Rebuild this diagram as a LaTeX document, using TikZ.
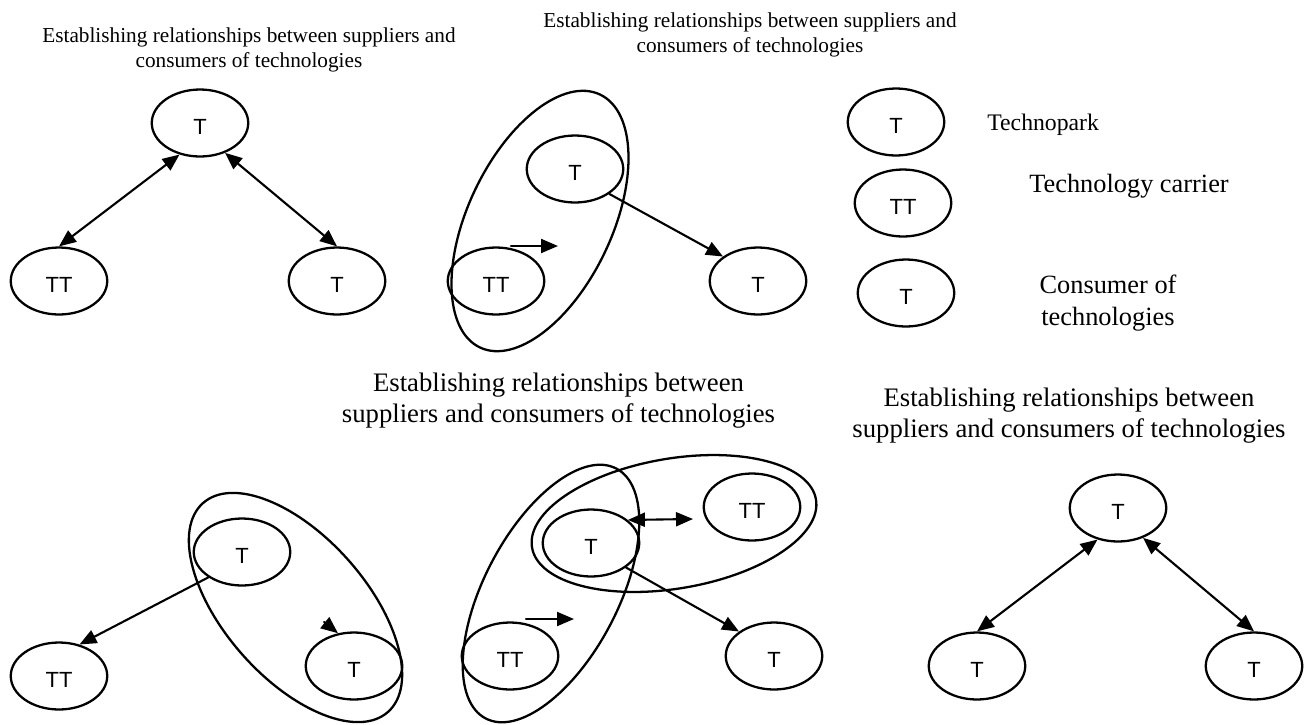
\documentclass[tikz,border=0pt]{standalone}
\usepackage{fontspec}
\setmainfont{Liberation Serif}
\setsansfont{Liberation Sans}
\usetikzlibrary{shapes.geometric,arrows.meta}

\begin{document}
\begin{tikzpicture}[x=0.02cm,y=-0.02cm,line join=round,line cap=round,>={Triangle[length=0.34cm,width=0.28cm]},
		oval/.style={ellipse,draw,line width=1.3pt,minimum width=1.93cm,minimum height=1.34cm,inner sep=0pt,
			font=\sffamily\fontsize{12.5}{14}\selectfont,text height=0.47cm,text depth=0pt},
		link/.style={line width=1.2pt},
		ttl/.style={align=center,font=\fontsize{12.1}{14.2}\selectfont},
		bigttl/.style={align=center,font=\fontsize{15.2}{17.6}\selectfont}]
			\useasboundingbox (0,0) rectangle (1309,724);
			\draw (249,49.5) node[ttl] (ttl1) {Establishing relationships between suppliers and\\consumers of technologies};
			\draw (750,34.5) node[ttl] (ttl2) {Establishing relationships between suppliers and\\consumers of technologies};
			\draw (558.5,401) node[bigttl] (ttl3) {Establishing relationships between\\suppliers and consumers of technologies};
			\draw (1069,416) node[bigttl] (ttl4) {Establishing relationships between\\suppliers and consumers of technologies};
			\draw (200,123) node[oval] (p1top) {T};
			\draw (59,281) node[oval] (p1tt) {TT};
			\draw (337,281) node[oval] (p1t) {T};
			\draw[link,<->] (p1tt.north) -- (p1top.-123);
			\draw[link,<->] (p1top.-50) -- (p1t.north);
			\draw (575,169) node[oval] (p2t) {T};
			\draw (496,281) node[oval] (p2tt) {TT};
			\draw (758,281) node[oval] (p2c) {T};
			\coordinate (p2a) at (511,246);
			\coordinate (p2b) at (558,246);
			\draw[link,->] (p2a) -- (p2b);
			\draw[link,->] (p2t.-36) -- (p2c.145);
			\draw (896,122) node[oval] (lgt) {T};
			\draw (903,203) node[oval] (lgtt) {TT};
			\draw (906,293) node[oval] (lgc) {T};
			\draw (987,130) node[anchor=base west,inner sep=0pt,font=\fontsize{13.5}{16}\selectfont] (lgtxt1) {Technopark};
			\draw (1029,192) node[anchor=base west,inner sep=0pt,font=\fontsize{15}{18}\selectfont] (lgtxt2) {Technology carrier};
			\draw (1108,302.7) node[align=center,font=\fontsize{15}{18.1}\selectfont] (lgtxt3) {Consumer of\\technologies};
			\draw (242,552) node[oval] (p3t) {T};
			\draw (59,676) node[oval] (p3tt) {TT};
			\draw (354,666) node[oval] (p3c) {T};
			\coordinate (p3a) at (324,622);
			\draw[link,->] (p3t.217) -- (p3tt.57);
			\draw[link,->] (p3a) -- (p3c.116);
			\draw (591,543) node[oval] (p4t) {T};
			\draw (752,507) node[oval] (p4tt) {TT};
			\draw (510,656) node[oval] (p4ttl) {TT};
			\draw (774,656) node[oval] (p4c) {T};
			\coordinate (p4d) at (693,519);
			\coordinate (p4a) at (526,619);
			\coordinate (p4b) at (574,619);
			\draw[link,<->] (p4t.32) -- (p4d);
			\draw[link,->] (p4t.-35) -- (p4c.145);
			\draw[link,->] (p4a) -- (p4b);
			\draw (1118,508) node[oval] (p5top) {T};
			\draw (977,666) node[oval] (p5l) {T};
			\draw (1254,666) node[oval] (p5r) {T};
			\draw[link,<->] (p5l.north) -- (p5top.-123);
			\draw[link,<->] (p5top.-50) -- (p5r.north);
			\foreach \cx/\cy/\ang/\ra/\rb in {540/221/64.6/140/72, 295.5/607.5/131.5/139.5/71, 551/593.5/62.4/141/67, 674/523.5/9.6/144/65}
			\draw[line width=1.3pt,rotate around={\ang:(\cx,\cy)}] (\cx,\cy) ellipse [x radius=\ra, y radius=\rb];
		\end{tikzpicture}
\end{document}
